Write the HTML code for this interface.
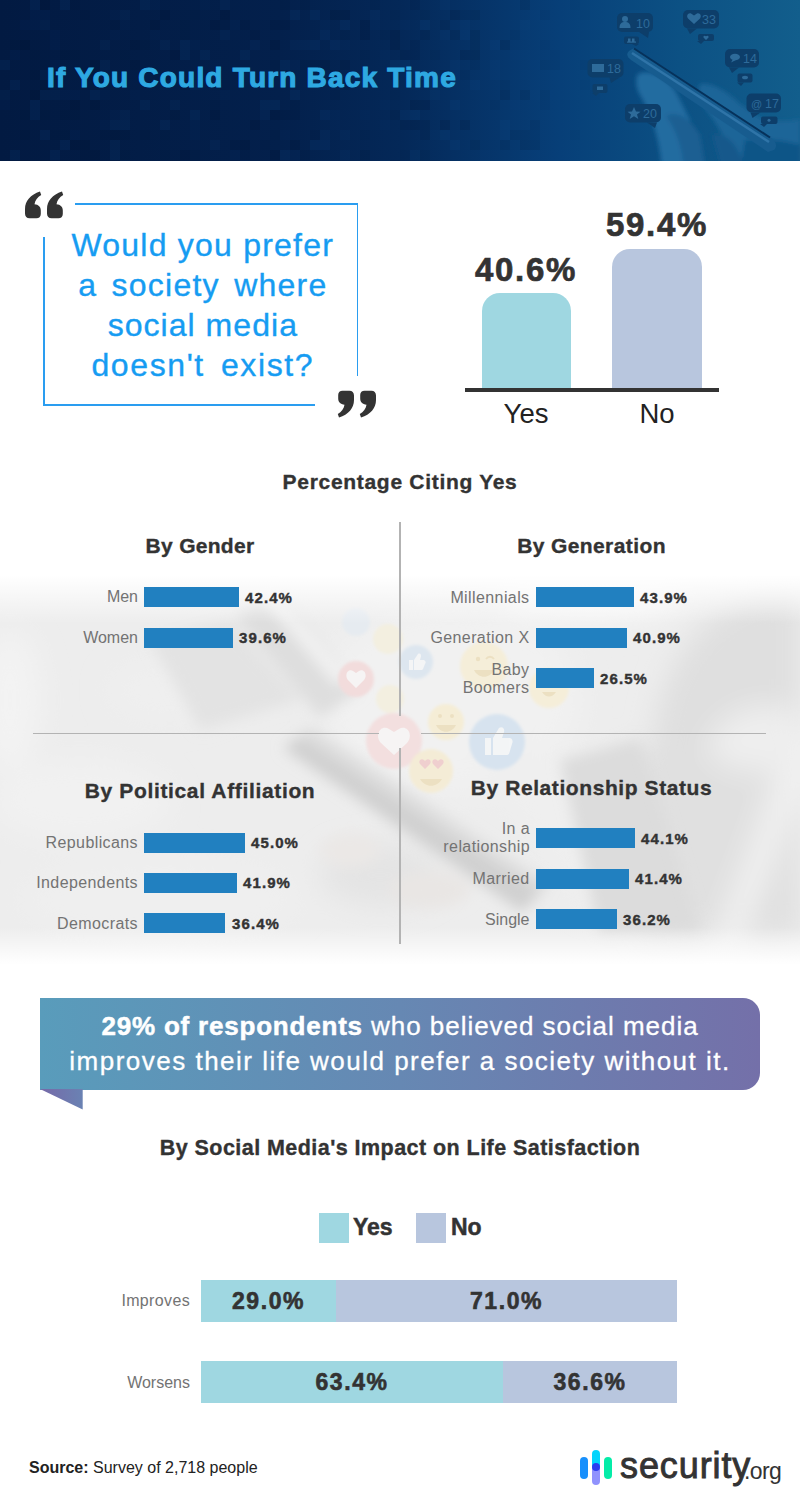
<!DOCTYPE html>
<html><head><meta charset="utf-8">
<style>
*{margin:0;padding:0;box-sizing:border-box}
html,body{width:800px;height:1512px;overflow:hidden;background:#fff}
body{position:relative;font-family:"Liberation Sans",sans-serif;color:#333}
.a{position:absolute;white-space:nowrap}
#hdr{position:absolute;left:0;top:0;width:800px;height:161px;overflow:hidden;
 background:linear-gradient(90deg,#0a2147 0%,#0c2a55 45%,#15497e 75%,#1b5990 100%)}
#title{left:47px;top:62px;font-size:28px;font-weight:bold;color:#2ea9e2;letter-spacing:1.2px;-webkit-text-stroke:1.1px #2ea9e2}
.qline{position:absolute;background:#2a9df0}
.qtext{position:absolute;left:44px;width:314px;text-align:center;color:#169cf2;font-size:32px;line-height:40px;letter-spacing:1.22px;-webkit-text-stroke:0.35px #169cf2}
.bar{position:absolute;background:#2180c0;height:20px}
.lbl{position:absolute;text-align:right;color:#737373;font-size:16px;line-height:18px;white-space:nowrap;letter-spacing:0.4px}
.val{position:absolute;font-weight:bold;color:#333;font-size:15px;line-height:20px;white-space:nowrap;letter-spacing:1.1px;-webkit-text-stroke:0.4px #333}
.h2{position:absolute;font-weight:bold;color:#333;font-size:21px;line-height:24px;white-space:nowrap;text-align:center;width:400px;letter-spacing:0.3px;-webkit-text-stroke:0.35px #333}
.div{position:absolute;background:#b3b3b3}
#bg{position:absolute;left:0;top:540px;width:800px;height:440px;overflow:hidden}
</style></head>
<body>
<div id="hdr"><svg width="800" height="161" viewBox="0 0 800 161" preserveAspectRatio="none">
<defs>
 <linearGradient id="hg" x1="0" y1="0" x2="1" y2="0">
  <stop offset="0" stop-color="#021a42"/>
  <stop offset="0.35" stop-color="#03204c"/>
  <stop offset="0.5" stop-color="#042858"/>
  <stop offset="0.7" stop-color="#073f78"/>
  <stop offset="0.85" stop-color="#0c5184"/>
  <stop offset="1" stop-color="#125e8c"/>
 </linearGradient>
 <filter id="hb" x="-20%" y="-20%" width="140%" height="140%"><feGaussianBlur stdDeviation="2"/></filter>
</defs>
<rect width="800" height="161" fill="url(#hg)"/>
<rect x="0" y="60" width="10" height="10" fill="#1c64b4" fill-opacity="0.088"/><rect x="0" y="90" width="10" height="10" fill="#1c64b4" fill-opacity="0.066"/><rect x="0" y="100" width="10" height="10" fill="#1c64b4" fill-opacity="0.044"/><rect x="10" y="40" width="10" height="10" fill="#000a1e" fill-opacity="0.066"/><rect x="10" y="50" width="10" height="10" fill="#1c64b4" fill-opacity="0.044"/><rect x="10" y="80" width="10" height="10" fill="#1c64b4" fill-opacity="0.088"/><rect x="10" y="150" width="10" height="10" fill="#1c64b4" fill-opacity="0.088"/><rect x="20" y="20" width="10" height="10" fill="#1c64b4" fill-opacity="0.044"/><rect x="20" y="40" width="10" height="10" fill="#000a1e" fill-opacity="0.138"/><rect x="20" y="110" width="10" height="10" fill="#000a1e" fill-opacity="0.066"/><rect x="20" y="130" width="10" height="10" fill="#000a1e" fill-opacity="0.099"/><rect x="20" y="160" width="10" height="10" fill="#000a1e" fill-opacity="0.138"/><rect x="30" y="0" width="10" height="10" fill="#1c64b4" fill-opacity="0.088"/><rect x="30" y="10" width="10" height="10" fill="#1c64b4" fill-opacity="0.044"/><rect x="30" y="20" width="10" height="10" fill="#1c64b4" fill-opacity="0.044"/><rect x="30" y="50" width="10" height="10" fill="#000a1e" fill-opacity="0.066"/><rect x="30" y="70" width="10" height="10" fill="#000a1e" fill-opacity="0.099"/><rect x="30" y="90" width="10" height="10" fill="#000a1e" fill-opacity="0.138"/><rect x="30" y="100" width="10" height="10" fill="#1c64b4" fill-opacity="0.088"/><rect x="30" y="110" width="10" height="10" fill="#1c64b4" fill-opacity="0.088"/><rect x="40" y="0" width="10" height="10" fill="#000a1e" fill-opacity="0.138"/><rect x="40" y="10" width="10" height="10" fill="#1c64b4" fill-opacity="0.044"/><rect x="40" y="20" width="10" height="10" fill="#1c64b4" fill-opacity="0.066"/><rect x="40" y="60" width="10" height="10" fill="#000a1e" fill-opacity="0.066"/><rect x="40" y="70" width="10" height="10" fill="#1c64b4" fill-opacity="0.066"/><rect x="40" y="80" width="10" height="10" fill="#000a1e" fill-opacity="0.138"/><rect x="40" y="90" width="10" height="10" fill="#1c64b4" fill-opacity="0.066"/><rect x="40" y="110" width="10" height="10" fill="#000a1e" fill-opacity="0.066"/><rect x="40" y="130" width="10" height="10" fill="#1c64b4" fill-opacity="0.088"/><rect x="40" y="160" width="10" height="10" fill="#000a1e" fill-opacity="0.138"/><rect x="50" y="30" width="10" height="10" fill="#1c64b4" fill-opacity="0.044"/><rect x="50" y="40" width="10" height="10" fill="#1c64b4" fill-opacity="0.044"/><rect x="50" y="60" width="10" height="10" fill="#1c64b4" fill-opacity="0.044"/><rect x="50" y="70" width="10" height="10" fill="#000a1e" fill-opacity="0.138"/><rect x="50" y="90" width="10" height="10" fill="#1c64b4" fill-opacity="0.066"/><rect x="50" y="130" width="10" height="10" fill="#000a1e" fill-opacity="0.066"/><rect x="50" y="150" width="10" height="10" fill="#1c64b4" fill-opacity="0.088"/><rect x="60" y="0" width="10" height="10" fill="#1c64b4" fill-opacity="0.088"/><rect x="60" y="50" width="10" height="10" fill="#000a1e" fill-opacity="0.099"/><rect x="60" y="90" width="10" height="10" fill="#1c64b4" fill-opacity="0.044"/><rect x="60" y="110" width="10" height="10" fill="#000a1e" fill-opacity="0.099"/><rect x="60" y="130" width="10" height="10" fill="#000a1e" fill-opacity="0.066"/><rect x="60" y="140" width="10" height="10" fill="#1c64b4" fill-opacity="0.088"/><rect x="60" y="160" width="10" height="10" fill="#000a1e" fill-opacity="0.099"/><rect x="70" y="0" width="10" height="10" fill="#000a1e" fill-opacity="0.099"/><rect x="70" y="50" width="10" height="10" fill="#000a1e" fill-opacity="0.066"/><rect x="70" y="90" width="10" height="10" fill="#1c64b4" fill-opacity="0.044"/><rect x="70" y="100" width="10" height="10" fill="#000a1e" fill-opacity="0.138"/><rect x="70" y="110" width="10" height="10" fill="#000a1e" fill-opacity="0.066"/><rect x="70" y="130" width="10" height="10" fill="#1c64b4" fill-opacity="0.044"/><rect x="70" y="140" width="10" height="10" fill="#000a1e" fill-opacity="0.138"/><rect x="70" y="160" width="10" height="10" fill="#000a1e" fill-opacity="0.138"/><rect x="80" y="10" width="10" height="10" fill="#000a1e" fill-opacity="0.099"/><rect x="80" y="140" width="10" height="10" fill="#000a1e" fill-opacity="0.138"/><rect x="80" y="150" width="10" height="10" fill="#000a1e" fill-opacity="0.099"/><rect x="90" y="60" width="10" height="10" fill="#000a1e" fill-opacity="0.138"/><rect x="90" y="70" width="10" height="10" fill="#000a1e" fill-opacity="0.138"/><rect x="90" y="80" width="10" height="10" fill="#000a1e" fill-opacity="0.066"/><rect x="90" y="90" width="10" height="10" fill="#1c64b4" fill-opacity="0.088"/><rect x="90" y="100" width="10" height="10" fill="#000a1e" fill-opacity="0.138"/><rect x="90" y="150" width="10" height="10" fill="#000a1e" fill-opacity="0.138"/><rect x="90" y="160" width="10" height="10" fill="#1c64b4" fill-opacity="0.044"/><rect x="100" y="40" width="10" height="10" fill="#1c64b4" fill-opacity="0.066"/><rect x="100" y="60" width="10" height="10" fill="#1c64b4" fill-opacity="0.066"/><rect x="100" y="90" width="10" height="10" fill="#1c64b4" fill-opacity="0.044"/><rect x="100" y="120" width="10" height="10" fill="#1c64b4" fill-opacity="0.044"/><rect x="100" y="130" width="10" height="10" fill="#000a1e" fill-opacity="0.099"/><rect x="110" y="10" width="10" height="10" fill="#1c64b4" fill-opacity="0.044"/><rect x="110" y="20" width="10" height="10" fill="#000a1e" fill-opacity="0.099"/><rect x="110" y="30" width="10" height="10" fill="#1c64b4" fill-opacity="0.044"/><rect x="110" y="110" width="10" height="10" fill="#1c64b4" fill-opacity="0.044"/><rect x="110" y="120" width="10" height="10" fill="#1c64b4" fill-opacity="0.088"/><rect x="110" y="130" width="10" height="10" fill="#000a1e" fill-opacity="0.138"/><rect x="110" y="140" width="10" height="10" fill="#1c64b4" fill-opacity="0.066"/><rect x="110" y="150" width="10" height="10" fill="#1c64b4" fill-opacity="0.088"/><rect x="110" y="160" width="10" height="10" fill="#000a1e" fill-opacity="0.066"/><rect x="120" y="10" width="10" height="10" fill="#1c64b4" fill-opacity="0.066"/><rect x="120" y="20" width="10" height="10" fill="#1c64b4" fill-opacity="0.044"/><rect x="120" y="50" width="10" height="10" fill="#000a1e" fill-opacity="0.066"/><rect x="120" y="110" width="10" height="10" fill="#1c64b4" fill-opacity="0.066"/><rect x="120" y="120" width="10" height="10" fill="#1c64b4" fill-opacity="0.088"/><rect x="120" y="130" width="10" height="10" fill="#000a1e" fill-opacity="0.099"/><rect x="120" y="150" width="10" height="10" fill="#000a1e" fill-opacity="0.066"/><rect x="120" y="160" width="10" height="10" fill="#1c64b4" fill-opacity="0.066"/><rect x="130" y="40" width="10" height="10" fill="#000a1e" fill-opacity="0.138"/><rect x="130" y="60" width="10" height="10" fill="#000a1e" fill-opacity="0.138"/><rect x="130" y="90" width="10" height="10" fill="#1c64b4" fill-opacity="0.044"/><rect x="140" y="0" width="10" height="10" fill="#1c64b4" fill-opacity="0.088"/><rect x="140" y="40" width="10" height="10" fill="#000a1e" fill-opacity="0.066"/><rect x="140" y="100" width="10" height="10" fill="#1c64b4" fill-opacity="0.088"/><rect x="140" y="130" width="10" height="10" fill="#000a1e" fill-opacity="0.099"/><rect x="140" y="160" width="10" height="10" fill="#1c64b4" fill-opacity="0.044"/><rect x="150" y="0" width="10" height="10" fill="#1c64b4" fill-opacity="0.044"/><rect x="150" y="20" width="10" height="10" fill="#000a1e" fill-opacity="0.138"/><rect x="150" y="30" width="10" height="10" fill="#1c64b4" fill-opacity="0.044"/><rect x="160" y="10" width="10" height="10" fill="#000a1e" fill-opacity="0.138"/><rect x="160" y="40" width="10" height="10" fill="#1c64b4" fill-opacity="0.066"/><rect x="160" y="80" width="10" height="10" fill="#1c64b4" fill-opacity="0.044"/><rect x="160" y="120" width="10" height="10" fill="#1c64b4" fill-opacity="0.088"/><rect x="160" y="130" width="10" height="10" fill="#000a1e" fill-opacity="0.066"/><rect x="160" y="150" width="10" height="10" fill="#000a1e" fill-opacity="0.066"/><rect x="170" y="50" width="10" height="10" fill="#000a1e" fill-opacity="0.138"/><rect x="170" y="100" width="10" height="10" fill="#1c64b4" fill-opacity="0.066"/><rect x="170" y="110" width="10" height="10" fill="#000a1e" fill-opacity="0.099"/><rect x="170" y="160" width="10" height="10" fill="#000a1e" fill-opacity="0.099"/><rect x="180" y="20" width="10" height="10" fill="#000a1e" fill-opacity="0.066"/><rect x="180" y="30" width="10" height="10" fill="#000a1e" fill-opacity="0.066"/><rect x="180" y="40" width="10" height="10" fill="#1c64b4" fill-opacity="0.088"/><rect x="180" y="50" width="10" height="10" fill="#1c64b4" fill-opacity="0.088"/><rect x="180" y="80" width="10" height="10" fill="#000a1e" fill-opacity="0.138"/><rect x="180" y="150" width="10" height="10" fill="#000a1e" fill-opacity="0.138"/><rect x="190" y="10" width="10" height="10" fill="#000a1e" fill-opacity="0.066"/><rect x="190" y="40" width="10" height="10" fill="#1c64b4" fill-opacity="0.044"/><rect x="190" y="80" width="10" height="10" fill="#1c64b4" fill-opacity="0.088"/><rect x="190" y="110" width="10" height="10" fill="#1c64b4" fill-opacity="0.088"/><rect x="190" y="120" width="10" height="10" fill="#1c64b4" fill-opacity="0.044"/><rect x="190" y="130" width="10" height="10" fill="#1c64b4" fill-opacity="0.044"/><rect x="190" y="150" width="10" height="10" fill="#000a1e" fill-opacity="0.066"/><rect x="190" y="160" width="10" height="10" fill="#000a1e" fill-opacity="0.066"/><rect x="200" y="0" width="10" height="10" fill="#1c64b4" fill-opacity="0.044"/><rect x="200" y="50" width="10" height="10" fill="#1c64b4" fill-opacity="0.088"/><rect x="200" y="70" width="10" height="10" fill="#000a1e" fill-opacity="0.066"/><rect x="210" y="20" width="10" height="10" fill="#000a1e" fill-opacity="0.138"/><rect x="210" y="60" width="10" height="10" fill="#1c64b4" fill-opacity="0.044"/><rect x="210" y="70" width="10" height="10" fill="#1c64b4" fill-opacity="0.044"/><rect x="210" y="100" width="10" height="10" fill="#000a1e" fill-opacity="0.066"/><rect x="210" y="110" width="10" height="10" fill="#000a1e" fill-opacity="0.138"/><rect x="210" y="140" width="10" height="10" fill="#1c64b4" fill-opacity="0.066"/><rect x="220" y="0" width="10" height="10" fill="#1c64b4" fill-opacity="0.066"/><rect x="220" y="10" width="10" height="10" fill="#000a1e" fill-opacity="0.138"/><rect x="220" y="20" width="10" height="10" fill="#000a1e" fill-opacity="0.066"/><rect x="220" y="30" width="10" height="10" fill="#1c64b4" fill-opacity="0.066"/><rect x="220" y="80" width="10" height="10" fill="#000a1e" fill-opacity="0.066"/><rect x="220" y="90" width="10" height="10" fill="#1c64b4" fill-opacity="0.044"/><rect x="230" y="20" width="10" height="10" fill="#1c64b4" fill-opacity="0.044"/><rect x="230" y="140" width="10" height="10" fill="#000a1e" fill-opacity="0.099"/><rect x="230" y="150" width="10" height="10" fill="#1c64b4" fill-opacity="0.044"/><rect x="230" y="160" width="10" height="10" fill="#000a1e" fill-opacity="0.099"/><rect x="240" y="20" width="10" height="10" fill="#000a1e" fill-opacity="0.099"/><rect x="240" y="50" width="10" height="10" fill="#1c64b4" fill-opacity="0.088"/><rect x="240" y="70" width="10" height="10" fill="#1c64b4" fill-opacity="0.044"/><rect x="240" y="140" width="10" height="10" fill="#000a1e" fill-opacity="0.138"/><rect x="240" y="150" width="10" height="10" fill="#000a1e" fill-opacity="0.066"/><rect x="240" y="160" width="10" height="10" fill="#1c64b4" fill-opacity="0.066"/><rect x="250" y="30" width="10" height="10" fill="#000a1e" fill-opacity="0.099"/><rect x="250" y="40" width="10" height="10" fill="#1c64b4" fill-opacity="0.066"/><rect x="250" y="120" width="10" height="10" fill="#000a1e" fill-opacity="0.138"/><rect x="260" y="70" width="10" height="10" fill="#1c64b4" fill-opacity="0.066"/><rect x="260" y="100" width="10" height="10" fill="#1c64b4" fill-opacity="0.088"/><rect x="260" y="110" width="10" height="10" fill="#1c64b4" fill-opacity="0.066"/><rect x="260" y="140" width="10" height="10" fill="#000a1e" fill-opacity="0.066"/><rect x="270" y="20" width="10" height="10" fill="#000a1e" fill-opacity="0.099"/><rect x="270" y="40" width="10" height="10" fill="#000a1e" fill-opacity="0.138"/><rect x="270" y="60" width="10" height="10" fill="#000a1e" fill-opacity="0.066"/><rect x="270" y="100" width="10" height="10" fill="#1c64b4" fill-opacity="0.088"/><rect x="270" y="110" width="10" height="10" fill="#000a1e" fill-opacity="0.138"/><rect x="270" y="130" width="10" height="10" fill="#000a1e" fill-opacity="0.066"/><rect x="270" y="150" width="10" height="10" fill="#000a1e" fill-opacity="0.138"/><rect x="280" y="0" width="10" height="10" fill="#000a1e" fill-opacity="0.066"/><rect x="280" y="20" width="10" height="10" fill="#000a1e" fill-opacity="0.099"/><rect x="280" y="60" width="10" height="10" fill="#1c64b4" fill-opacity="0.088"/><rect x="280" y="110" width="10" height="10" fill="#000a1e" fill-opacity="0.099"/><rect x="280" y="130" width="10" height="10" fill="#1c64b4" fill-opacity="0.044"/><rect x="280" y="150" width="10" height="10" fill="#1c64b4" fill-opacity="0.088"/><rect x="290" y="10" width="10" height="10" fill="#1c64b4" fill-opacity="0.088"/><rect x="290" y="40" width="10" height="10" fill="#1c64b4" fill-opacity="0.066"/><rect x="290" y="60" width="10" height="10" fill="#1c64b4" fill-opacity="0.044"/><rect x="290" y="90" width="10" height="10" fill="#1c64b4" fill-opacity="0.088"/><rect x="290" y="100" width="10" height="10" fill="#000a1e" fill-opacity="0.066"/><rect x="290" y="110" width="10" height="10" fill="#000a1e" fill-opacity="0.099"/><rect x="290" y="140" width="10" height="10" fill="#000a1e" fill-opacity="0.138"/><rect x="290" y="150" width="10" height="10" fill="#1c64b4" fill-opacity="0.044"/><rect x="300" y="0" width="10" height="10" fill="#000a1e" fill-opacity="0.066"/><rect x="300" y="40" width="10" height="10" fill="#1c64b4" fill-opacity="0.066"/><rect x="300" y="60" width="10" height="10" fill="#000a1e" fill-opacity="0.066"/><rect x="300" y="150" width="10" height="10" fill="#000a1e" fill-opacity="0.066"/><rect x="310" y="10" width="10" height="10" fill="#1c64b4" fill-opacity="0.088"/><rect x="310" y="40" width="10" height="10" fill="#1c64b4" fill-opacity="0.088"/><rect x="310" y="60" width="10" height="10" fill="#000a1e" fill-opacity="0.099"/><rect x="310" y="70" width="10" height="10" fill="#000a1e" fill-opacity="0.066"/><rect x="310" y="130" width="10" height="10" fill="#000a1e" fill-opacity="0.099"/><rect x="310" y="140" width="10" height="10" fill="#1c64b4" fill-opacity="0.088"/><rect x="320" y="20" width="10" height="10" fill="#1c64b4" fill-opacity="0.044"/><rect x="320" y="30" width="10" height="10" fill="#1c64b4" fill-opacity="0.088"/><rect x="320" y="60" width="10" height="10" fill="#000a1e" fill-opacity="0.138"/><rect x="320" y="110" width="10" height="10" fill="#1c64b4" fill-opacity="0.088"/><rect x="320" y="130" width="10" height="10" fill="#1c64b4" fill-opacity="0.066"/><rect x="320" y="140" width="10" height="10" fill="#1c64b4" fill-opacity="0.088"/><rect x="320" y="160" width="10" height="10" fill="#1c64b4" fill-opacity="0.066"/><rect x="330" y="10" width="10" height="10" fill="#000a1e" fill-opacity="0.138"/><rect x="330" y="40" width="10" height="10" fill="#1c64b4" fill-opacity="0.088"/><rect x="330" y="70" width="10" height="10" fill="#000a1e" fill-opacity="0.138"/><rect x="330" y="90" width="10" height="10" fill="#000a1e" fill-opacity="0.099"/><rect x="330" y="110" width="10" height="10" fill="#1c64b4" fill-opacity="0.044"/><rect x="330" y="120" width="10" height="10" fill="#1c64b4" fill-opacity="0.044"/><rect x="340" y="10" width="10" height="10" fill="#000a1e" fill-opacity="0.138"/><rect x="340" y="20" width="10" height="10" fill="#1c64b4" fill-opacity="0.088"/><rect x="340" y="30" width="10" height="10" fill="#000a1e" fill-opacity="0.066"/><rect x="340" y="40" width="10" height="10" fill="#1c64b4" fill-opacity="0.044"/><rect x="340" y="60" width="10" height="10" fill="#000a1e" fill-opacity="0.138"/><rect x="340" y="80" width="10" height="10" fill="#000a1e" fill-opacity="0.138"/><rect x="340" y="130" width="10" height="10" fill="#1c64b4" fill-opacity="0.066"/><rect x="340" y="150" width="10" height="10" fill="#1c64b4" fill-opacity="0.066"/><rect x="360" y="20" width="10" height="10" fill="#000a1e" fill-opacity="0.138"/><rect x="360" y="30" width="10" height="10" fill="#000a1e" fill-opacity="0.138"/><rect x="360" y="50" width="10" height="10" fill="#000a1e" fill-opacity="0.066"/><rect x="360" y="80" width="10" height="10" fill="#1c64b4" fill-opacity="0.044"/><rect x="360" y="110" width="10" height="10" fill="#1c64b4" fill-opacity="0.044"/><rect x="360" y="130" width="10" height="10" fill="#000a1e" fill-opacity="0.066"/><rect x="360" y="150" width="10" height="10" fill="#000a1e" fill-opacity="0.099"/><rect x="370" y="0" width="10" height="10" fill="#000a1e" fill-opacity="0.066"/><rect x="370" y="10" width="10" height="10" fill="#1c64b4" fill-opacity="0.066"/><rect x="370" y="20" width="10" height="10" fill="#1c64b4" fill-opacity="0.044"/><rect x="380" y="30" width="10" height="10" fill="#000a1e" fill-opacity="0.066"/><rect x="380" y="50" width="10" height="10" fill="#1c64b4" fill-opacity="0.044"/><rect x="380" y="100" width="10" height="10" fill="#1c64b4" fill-opacity="0.044"/><rect x="380" y="120" width="10" height="10" fill="#1c64b4" fill-opacity="0.044"/><rect x="380" y="160" width="10" height="10" fill="#1c64b4" fill-opacity="0.066"/><rect x="390" y="10" width="10" height="10" fill="#000a1e" fill-opacity="0.066"/><rect x="390" y="30" width="10" height="10" fill="#000a1e" fill-opacity="0.138"/><rect x="390" y="40" width="10" height="10" fill="#000a1e" fill-opacity="0.138"/><rect x="390" y="60" width="10" height="10" fill="#1c64b4" fill-opacity="0.088"/><rect x="390" y="70" width="10" height="10" fill="#000a1e" fill-opacity="0.138"/><rect x="390" y="90" width="10" height="10" fill="#000a1e" fill-opacity="0.066"/><rect x="390" y="110" width="10" height="10" fill="#000a1e" fill-opacity="0.099"/><rect x="390" y="160" width="10" height="10" fill="#000a1e" fill-opacity="0.138"/><rect x="400" y="20" width="10" height="10" fill="#1c64b4" fill-opacity="0.044"/><rect x="400" y="50" width="10" height="10" fill="#000a1e" fill-opacity="0.099"/><rect x="400" y="60" width="10" height="10" fill="#1c64b4" fill-opacity="0.088"/><rect x="400" y="110" width="10" height="10" fill="#1c64b4" fill-opacity="0.066"/><rect x="400" y="120" width="10" height="10" fill="#000a1e" fill-opacity="0.099"/><rect x="400" y="150" width="10" height="10" fill="#000a1e" fill-opacity="0.066"/><rect x="410" y="0" width="10" height="10" fill="#000a1e" fill-opacity="0.099"/><rect x="410" y="40" width="10" height="10" fill="#000a1e" fill-opacity="0.099"/><rect x="410" y="50" width="10" height="10" fill="#000a1e" fill-opacity="0.099"/><rect x="410" y="80" width="10" height="10" fill="#1c64b4" fill-opacity="0.044"/><rect x="410" y="100" width="10" height="10" fill="#000a1e" fill-opacity="0.138"/><rect x="410" y="110" width="10" height="10" fill="#1c64b4" fill-opacity="0.088"/><rect x="410" y="120" width="10" height="10" fill="#000a1e" fill-opacity="0.138"/><rect x="410" y="150" width="10" height="10" fill="#1c64b4" fill-opacity="0.066"/><rect x="420" y="10" width="10" height="10" fill="#000a1e" fill-opacity="0.066"/><rect x="420" y="20" width="10" height="10" fill="#1c64b4" fill-opacity="0.088"/><rect x="420" y="30" width="10" height="10" fill="#000a1e" fill-opacity="0.099"/><rect x="420" y="70" width="10" height="10" fill="#1c64b4" fill-opacity="0.066"/><rect x="420" y="80" width="10" height="10" fill="#000a1e" fill-opacity="0.066"/><rect x="420" y="100" width="10" height="10" fill="#000a1e" fill-opacity="0.138"/><rect x="420" y="120" width="10" height="10" fill="#000a1e" fill-opacity="0.099"/><rect x="420" y="130" width="10" height="10" fill="#000a1e" fill-opacity="0.099"/><rect x="420" y="150" width="10" height="10" fill="#000a1e" fill-opacity="0.066"/><rect x="420" y="160" width="10" height="10" fill="#000a1e" fill-opacity="0.066"/><rect x="430" y="50" width="10" height="10" fill="#000a1e" fill-opacity="0.066"/><rect x="430" y="90" width="10" height="10" fill="#1c64b4" fill-opacity="0.066"/><rect x="430" y="130" width="10" height="10" fill="#1c64b4" fill-opacity="0.044"/><rect x="430" y="160" width="10" height="10" fill="#000a1e" fill-opacity="0.099"/><rect x="440" y="0" width="10" height="10" fill="#1c64b4" fill-opacity="0.066"/><rect x="440" y="20" width="10" height="10" fill="#000a1e" fill-opacity="0.099"/><rect x="440" y="30" width="10" height="10" fill="#1c64b4" fill-opacity="0.066"/><rect x="440" y="70" width="10" height="10" fill="#000a1e" fill-opacity="0.138"/><rect x="440" y="120" width="10" height="10" fill="#000a1e" fill-opacity="0.138"/><rect x="440" y="130" width="10" height="10" fill="#1c64b4" fill-opacity="0.088"/><rect x="450" y="10" width="10" height="10" fill="#000a1e" fill-opacity="0.138"/><rect x="450" y="20" width="10" height="10" fill="#1c64b4" fill-opacity="0.044"/><rect x="450" y="30" width="10" height="10" fill="#000a1e" fill-opacity="0.099"/><rect x="450" y="60" width="10" height="10" fill="#1c64b4" fill-opacity="0.066"/><rect x="450" y="70" width="10" height="10" fill="#1c64b4" fill-opacity="0.044"/><rect x="450" y="100" width="10" height="10" fill="#1c64b4" fill-opacity="0.088"/><rect x="450" y="140" width="10" height="10" fill="#1c64b4" fill-opacity="0.088"/><rect x="460" y="10" width="10" height="10" fill="#000a1e" fill-opacity="0.066"/><rect x="460" y="20" width="10" height="10" fill="#1c64b4" fill-opacity="0.066"/><rect x="460" y="30" width="10" height="10" fill="#1c64b4" fill-opacity="0.088"/><rect x="460" y="50" width="10" height="10" fill="#000a1e" fill-opacity="0.138"/><rect x="460" y="70" width="10" height="10" fill="#000a1e" fill-opacity="0.066"/><rect x="460" y="120" width="10" height="10" fill="#000a1e" fill-opacity="0.138"/><rect x="470" y="10" width="10" height="10" fill="#000a1e" fill-opacity="0.099"/><rect x="470" y="30" width="10" height="10" fill="#000a1e" fill-opacity="0.099"/><rect x="470" y="40" width="10" height="10" fill="#000a1e" fill-opacity="0.099"/><rect x="470" y="50" width="10" height="10" fill="#000a1e" fill-opacity="0.138"/><rect x="470" y="60" width="10" height="10" fill="#000a1e" fill-opacity="0.066"/><rect x="470" y="80" width="10" height="10" fill="#1c64b4" fill-opacity="0.088"/><rect x="470" y="140" width="10" height="10" fill="#000a1e" fill-opacity="0.099"/><rect x="480" y="150" width="10" height="10" fill="#1c64b4" fill-opacity="0.044"/><rect x="480" y="160" width="10" height="10" fill="#1c64b4" fill-opacity="0.088"/><rect x="490" y="40" width="10" height="10" fill="#1c64b4" fill-opacity="0.083"/><rect x="490" y="60" width="10" height="10" fill="#1c64b4" fill-opacity="0.062"/><rect x="490" y="70" width="10" height="10" fill="#1c64b4" fill-opacity="0.062"/><rect x="490" y="100" width="10" height="10" fill="#000a1e" fill-opacity="0.062"/><rect x="500" y="40" width="10" height="10" fill="#000a1e" fill-opacity="0.120"/><rect x="500" y="80" width="10" height="10" fill="#000a1e" fill-opacity="0.058"/><rect x="500" y="90" width="10" height="10" fill="#000a1e" fill-opacity="0.120"/><rect x="500" y="120" width="10" height="10" fill="#1c64b4" fill-opacity="0.077"/><rect x="500" y="130" width="10" height="10" fill="#1c64b4" fill-opacity="0.058"/><rect x="500" y="140" width="10" height="10" fill="#000a1e" fill-opacity="0.087"/><rect x="510" y="30" width="10" height="10" fill="#000a1e" fill-opacity="0.054"/><rect x="510" y="50" width="10" height="10" fill="#1c64b4" fill-opacity="0.054"/><rect x="510" y="100" width="10" height="10" fill="#1c64b4" fill-opacity="0.054"/><rect x="510" y="130" width="10" height="10" fill="#000a1e" fill-opacity="0.080"/><rect x="520" y="0" width="10" height="10" fill="#000a1e" fill-opacity="0.103"/><rect x="520" y="20" width="10" height="10" fill="#1c64b4" fill-opacity="0.066"/><rect x="520" y="30" width="10" height="10" fill="#1c64b4" fill-opacity="0.033"/><rect x="520" y="50" width="10" height="10" fill="#1c64b4" fill-opacity="0.050"/><rect x="520" y="70" width="10" height="10" fill="#1c64b4" fill-opacity="0.050"/><rect x="520" y="90" width="10" height="10" fill="#000a1e" fill-opacity="0.103"/><rect x="520" y="130" width="10" height="10" fill="#000a1e" fill-opacity="0.074"/><rect x="520" y="140" width="10" height="10" fill="#000a1e" fill-opacity="0.103"/><rect x="520" y="150" width="10" height="10" fill="#1c64b4" fill-opacity="0.033"/><rect x="530" y="10" width="10" height="10" fill="#1c64b4" fill-opacity="0.045"/><rect x="530" y="60" width="10" height="10" fill="#1c64b4" fill-opacity="0.045"/><rect x="530" y="80" width="10" height="10" fill="#1c64b4" fill-opacity="0.030"/><rect x="530" y="90" width="10" height="10" fill="#1c64b4" fill-opacity="0.061"/><rect x="530" y="120" width="10" height="10" fill="#000a1e" fill-opacity="0.095"/><rect x="530" y="130" width="10" height="10" fill="#000a1e" fill-opacity="0.045"/><rect x="530" y="140" width="10" height="10" fill="#000a1e" fill-opacity="0.095"/><rect x="530" y="150" width="10" height="10" fill="#1c64b4" fill-opacity="0.045"/><rect x="540" y="10" width="10" height="10" fill="#000a1e" fill-opacity="0.041"/><rect x="540" y="20" width="10" height="10" fill="#1c64b4" fill-opacity="0.041"/><rect x="540" y="40" width="10" height="10" fill="#000a1e" fill-opacity="0.041"/><rect x="540" y="60" width="10" height="10" fill="#000a1e" fill-opacity="0.062"/><rect x="540" y="90" width="10" height="10" fill="#000a1e" fill-opacity="0.062"/><rect x="540" y="100" width="10" height="10" fill="#000a1e" fill-opacity="0.041"/><rect x="550" y="50" width="10" height="10" fill="#000a1e" fill-opacity="0.037"/><rect x="550" y="60" width="10" height="10" fill="#000a1e" fill-opacity="0.056"/><rect x="550" y="70" width="10" height="10" fill="#1c64b4" fill-opacity="0.037"/><rect x="550" y="90" width="10" height="10" fill="#1c64b4" fill-opacity="0.050"/><rect x="550" y="110" width="10" height="10" fill="#1c64b4" fill-opacity="0.037"/><rect x="550" y="150" width="10" height="10" fill="#1c64b4" fill-opacity="0.025"/><rect x="560" y="30" width="10" height="10" fill="#1c64b4" fill-opacity="0.022"/><rect x="560" y="100" width="10" height="10" fill="#000a1e" fill-opacity="0.033"/><rect x="560" y="150" width="10" height="10" fill="#1c64b4" fill-opacity="0.022"/><rect x="560" y="160" width="10" height="10" fill="#000a1e" fill-opacity="0.050"/><rect x="570" y="0" width="10" height="10" fill="#000a1e" fill-opacity="0.043"/><rect x="570" y="90" width="10" height="10" fill="#1c64b4" fill-opacity="0.029"/><rect x="570" y="130" width="10" height="10" fill="#000a1e" fill-opacity="0.043"/><rect x="580" y="10" width="10" height="10" fill="#000a1e" fill-opacity="0.052"/><rect x="580" y="30" width="10" height="10" fill="#000a1e" fill-opacity="0.037"/><rect x="580" y="60" width="10" height="10" fill="#000a1e" fill-opacity="0.037"/><rect x="580" y="80" width="10" height="10" fill="#000a1e" fill-opacity="0.037"/><rect x="590" y="0" width="10" height="10" fill="#1c64b4" fill-opacity="0.014"/><rect x="590" y="20" width="10" height="10" fill="#1c64b4" fill-opacity="0.021"/><rect x="590" y="30" width="10" height="10" fill="#000a1e" fill-opacity="0.021"/><rect x="590" y="50" width="10" height="10" fill="#1c64b4" fill-opacity="0.028"/><rect x="590" y="60" width="10" height="10" fill="#1c64b4" fill-opacity="0.014"/><rect x="590" y="90" width="10" height="10" fill="#000a1e" fill-opacity="0.031"/><rect x="590" y="140" width="10" height="10" fill="#000a1e" fill-opacity="0.031"/><rect x="590" y="160" width="10" height="10" fill="#1c64b4" fill-opacity="0.021"/><rect x="600" y="10" width="10" height="10" fill="#1c64b4" fill-opacity="0.017"/><rect x="600" y="20" width="10" height="10" fill="#1c64b4" fill-opacity="0.022"/><rect x="600" y="110" width="10" height="10" fill="#1c64b4" fill-opacity="0.017"/><rect x="600" y="120" width="10" height="10" fill="#1c64b4" fill-opacity="0.017"/><rect x="600" y="140" width="10" height="10" fill="#000a1e" fill-opacity="0.025"/><rect x="600" y="160" width="10" height="10" fill="#1c64b4" fill-opacity="0.011"/><rect x="610" y="50" width="10" height="10" fill="#1c64b4" fill-opacity="0.008"/><rect x="610" y="70" width="10" height="10" fill="#000a1e" fill-opacity="0.019"/><rect x="610" y="80" width="10" height="10" fill="#000a1e" fill-opacity="0.012"/><rect x="610" y="110" width="10" height="10" fill="#000a1e" fill-opacity="0.019"/><rect x="610" y="160" width="10" height="10" fill="#1c64b4" fill-opacity="0.017"/><rect x="620" y="10" width="10" height="10" fill="#1c64b4" fill-opacity="0.011"/><rect x="620" y="20" width="10" height="10" fill="#1c64b4" fill-opacity="0.006"/><rect x="620" y="30" width="10" height="10" fill="#1c64b4" fill-opacity="0.011"/><rect x="620" y="50" width="10" height="10" fill="#000a1e" fill-opacity="0.012"/><rect x="620" y="110" width="10" height="10" fill="#1c64b4" fill-opacity="0.008"/><rect x="620" y="130" width="10" height="10" fill="#000a1e" fill-opacity="0.008"/><rect x="630" y="0" width="10" height="10" fill="#000a1e" fill-opacity="0.009"/><rect x="630" y="20" width="10" height="10" fill="#1c64b4" fill-opacity="0.004"/><rect x="630" y="50" width="10" height="10" fill="#000a1e" fill-opacity="0.004"/><rect x="630" y="80" width="10" height="10" fill="#000a1e" fill-opacity="0.009"/><rect x="630" y="90" width="10" height="10" fill="#1c64b4" fill-opacity="0.006"/><rect x="630" y="100" width="10" height="10" fill="#000a1e" fill-opacity="0.004"/><rect x="630" y="130" width="10" height="10" fill="#000a1e" fill-opacity="0.006"/><rect x="630" y="140" width="10" height="10" fill="#1c64b4" fill-opacity="0.006"/><rect x="630" y="150" width="10" height="10" fill="#1c64b4" fill-opacity="0.004"/><rect x="630" y="160" width="10" height="10" fill="#000a1e" fill-opacity="0.006"/>
<g filter="url(#hb)">
 <path d="M638,74 C650,68 668,78 676,92 L690,120 C694,135 692,150 688,170 L662,170 C660,140 652,115 640,95 C636,88 635,80 638,74 Z" fill="#236ca0"/>
 <path d="M666,116 C678,110 692,120 700,135 L706,170 L684,170 C682,145 676,130 666,116 Z" fill="#1a5f92"/>
 <path d="M700,84 C712,82 728,92 740,104 L760,118 C775,123 792,121 800,119 L800,170 L735,170 C730,145 718,125 705,108 C700,100 697,90 700,84 Z" fill="#1d6598"/>
 <path d="M712,135 C725,132 738,142 745,170 L722,170 Z" fill="#17598b"/>
 <path d="M745,140 C770,138 790,142 800,145 L800,170 L740,170 Z" fill="#0f5487"/>
</g>
<path d="M629,51 L634,48 L770,137 C776,141 778,146 774,150 L768,152 L631,60 C627,57 626,54 629,51 Z" fill="#175c8f"/>
<path d="M632,53 L769,142" stroke="#2f74a8" stroke-width="2.5"/>
<path d="M634,48.5 L770,137.5" stroke="#06315a" stroke-width="2"/>
<g><rect x="617" y="13" width="36" height="19" rx="5" fill="#0d3e6a"/><path d="M639,32 L648,38 L649,32 Z" fill="#0d3e6a"/><circle cx="625" cy="19" r="3" fill="#2e6b9a"/><path d="M619.5,28 C619.5,23 622,22 625,22 C628,22 630.5,23 630.5,28 Z" fill="#2e6b9a"/><text x="636" y="28" font-size="12.5" fill="#2e6b9a" font-family="Liberation Sans">10</text></g><g><rect x="624" y="36.5" width="15" height="7.5" rx="2" fill="#0d3e6a"/><path d="M632,44.0 L636,46 L639,44.0 Z" fill="#0d3e6a"/><rect x="628" y="38.5" width="2.5" height="3.5" fill="#2e6b9a"/><rect x="632" y="38.5" width="2.5" height="3.5" fill="#2e6b9a"/><rect x="627" y="41.5" width="9" height="1.2" fill="#2e6b9a"/></g><g><rect x="683" y="10" width="36" height="18.5" rx="5" fill="#0d3e6a"/><path d="M687,28.5 L690,34 L697,28.5 Z" fill="#0d3e6a"/><path d="M694,24 L688,18.5 C686,16 688,12.5 691,13.5 L694,15.5 L697,13.5 C700,12.5 702,16 700,18.5 Z" fill="#2e6b9a"/><text x="702" y="24" font-size="12.5" fill="#2e6b9a" font-family="Liberation Sans">33</text></g><g><rect x="698" y="34" width="16" height="7" rx="2" fill="#0d3e6a"/><path d="M697,41 L701,44 L704,41 Z" fill="#0d3e6a"/><path d="M706,40 L703.5,37.5 C703,36 704.5,35 706,36.3 C707.5,35 709,36 708.5,37.5 Z" fill="#2e6b9a"/></g><g><rect x="587.5" y="59" width="36" height="18.5" rx="5" fill="#0d3e6a"/><path d="M609.5,77.5 L611,83 L619.5,77.5 Z" fill="#0d3e6a"/><rect x="592" y="64" width="12" height="8" fill="#2e6b9a"/><text x="607" y="73" font-size="12.5" fill="#2e6b9a" font-family="Liberation Sans">18</text></g><g><rect x="592.5" y="84" width="15" height="9" rx="2" fill="#0d3e6a"/><path d="M592,93 L596,96 L599,93 Z" fill="#0d3e6a"/><rect x="597" y="86.5" width="6" height="3.5" fill="#2e6b9a"/></g><g><rect x="725" y="49" width="34" height="18.5" rx="5" fill="#0d3e6a"/><path d="M729,67.5 L732,73 L739,67.5 Z" fill="#0d3e6a"/><ellipse cx="735" cy="57" rx="5" ry="3.3" fill="#2e6b9a"/><path d="M733,59 L731,62.5 L737,59.5 Z" fill="#2e6b9a"/><text x="743" y="63" font-size="12.5" fill="#2e6b9a" font-family="Liberation Sans">14</text></g><g><rect x="737.5" y="73.5" width="15" height="9" rx="2" fill="#0d3e6a"/><path d="M737,82.5 L741,86 L744,82.5 Z" fill="#0d3e6a"/><ellipse cx="745" cy="77.5" rx="3" ry="1.8" fill="#2e6b9a"/></g><g><rect x="625" y="104" width="36" height="18.5" rx="5" fill="#0d3e6a"/><path d="M647,122.5 L655,128 L657,122.5 Z" fill="#0d3e6a"/><path d="M634,107 L636,111.5 L640.5,111.8 L637,114.5 L638.3,119 L634,116.3 L629.7,119 L631,114.5 L627.5,111.8 L632,111.5 Z" fill="#2e6b9a"/><text x="643" y="118" font-size="12.5" fill="#2e6b9a" font-family="Liberation Sans">20</text></g><g><rect x="746.5" y="93.5" width="34.5" height="19" rx="5" fill="#0d3e6a"/><path d="M750.5,112.5 L752.5,118 L760.5,112.5 Z" fill="#0d3e6a"/><text x="751" y="107.5" font-size="11" fill="#2e6b9a" font-family="Liberation Sans">@</text><text x="765" y="108" font-size="12.5" fill="#2e6b9a" font-family="Liberation Sans">17</text></g><g><rect x="761" y="116.5" width="16.5" height="7.5" rx="2" fill="#0d3e6a"/><path d="M760,124.0 L764,127 L767,124.0 Z" fill="#0d3e6a"/><circle cx="769" cy="120.3" r="1.5" fill="#2e6b9a"/></g>
</svg></div>
<div class="a" id="title">If You Could Turn Back Time</div>

<!-- quote -->
<svg class="a" style="left:25px;top:191px" width="40" height="28" viewBox="0 0 40 28">
 <path fill="#333" d="M15,0.5 L16.2,4 C12.5,6 10,9.5 9.5,13.3 C13.5,13.6 15.8,16 15.8,19.5 L15.8,23 C15.8,25.8 14,27.3 11.5,27.3 L4.5,27.3 C1.8,27.3 0,25.5 0,22.5 L0,18 C0,10 5.5,3.5 15,0.5 Z"/>
 <path fill="#333" transform="translate(22,0)" d="M15,0.5 L16.2,4 C12.5,6 10,9.5 9.5,13.3 C13.5,13.6 15.8,16 15.8,19.5 L15.8,23 C15.8,25.8 14,27.3 11.5,27.3 L4.5,27.3 C1.8,27.3 0,25.5 0,22.5 L0,18 C0,10 5.5,3.5 15,0.5 Z"/>
</svg>
<svg class="a" style="left:335.5px;top:390px" width="40" height="28" viewBox="0 0 40 28">
 <g transform="rotate(180 20 14)">
 <path fill="#333" d="M15,0.5 L16.2,4 C12.5,6 10,9.5 9.5,13.3 C13.5,13.6 15.8,16 15.8,19.5 L15.8,23 C15.8,25.8 14,27.3 11.5,27.3 L4.5,27.3 C1.8,27.3 0,25.5 0,22.5 L0,18 C0,10 5.5,3.5 15,0.5 Z"/>
 <path fill="#333" transform="translate(22,0)" d="M15,0.5 L16.2,4 C12.5,6 10,9.5 9.5,13.3 C13.5,13.6 15.8,16 15.8,19.5 L15.8,23 C15.8,25.8 14,27.3 11.5,27.3 L4.5,27.3 C1.8,27.3 0,25.5 0,22.5 L0,18 C0,10 5.5,3.5 15,0.5 Z"/>
 </g>
</svg>
<div class="qline" style="left:75px;top:203px;width:283px;height:1.5px"></div>
<div class="qline" style="left:356.5px;top:203px;width:1.5px;height:173px"></div>
<div class="qline" style="left:43px;top:237px;width:1.5px;height:168px"></div>
<div class="qline" style="left:43px;top:404px;width:272px;height:1.5px"></div>
<div class="qtext" style="top:224.5px;left:45.8px">Would you prefer<br><span style="word-spacing:4.3px">a society where</span><br><span style="letter-spacing:1.04px">social media</span><br><span style="word-spacing:5.6px;letter-spacing:1.6px">doesn't exist?</span></div>

<!-- top bar chart -->
<div class="a" style="left:481.5px;top:292.5px;width:89.5px;height:97.5px;background:#9fd7e1;border-radius:18px 18px 0 0"></div>
<div class="a" style="left:612px;top:248.5px;width:89.5px;height:141.5px;background:#b8c6de;border-radius:18px 18px 0 0"></div>
<div class="a" style="left:465px;top:388px;width:254px;height:4px;background:#333"></div>
<div class="a" style="left:466px;top:251px;width:120px;text-align:center;font-size:33px;font-weight:bold;letter-spacing:1.7px;-webkit-text-stroke:0.7px #333">40.6%</div>
<div class="a" style="left:597px;top:206px;width:120px;text-align:center;font-size:33px;font-weight:bold;letter-spacing:1.7px;-webkit-text-stroke:0.7px #333">59.4%</div>
<div class="a" style="left:466px;top:397.5px;width:120px;text-align:center;font-size:27.5px;color:#222">Yes</div>
<div class="a" style="left:597px;top:397.5px;width:120px;text-align:center;font-size:27.5px;color:#222">No</div>

<!-- middle background -->
<div id="bg"><svg width="800" height="440" viewBox="0 540 800 440">
<defs>
 <filter id="bl" x="-50%" y="-50%" width="200%" height="200%"><feGaussianBlur stdDeviation="14"/></filter>
 <filter id="bl3" x="-50%" y="-50%" width="200%" height="200%"><feGaussianBlur stdDeviation="7"/></filter>
 <filter id="bl2" x="-30%" y="-30%" width="160%" height="160%"><feGaussianBlur stdDeviation="1.5"/></filter>
 <linearGradient id="fadeV" gradientUnits="userSpaceOnUse" x1="0" y1="540" x2="0" y2="980">
  <stop offset="0" stop-color="#fff" stop-opacity="1"/>
  <stop offset="0.08" stop-color="#fff" stop-opacity="1"/>
  <stop offset="0.19" stop-color="#fff" stop-opacity="0"/>
  <stop offset="0.88" stop-color="#fff" stop-opacity="0"/>
  <stop offset="0.965" stop-color="#fff" stop-opacity="1"/>
  <stop offset="1" stop-color="#fff" stop-opacity="1"/>
 </linearGradient>
</defs>
<rect x="0" y="540" width="800" height="440" fill="#ededed"/>
<g filter="url(#bl)">
 <ellipse cx="10" cy="700" rx="30" ry="70" fill="#f3f3f3"/>
 <ellipse cx="170" cy="690" rx="60" ry="30" fill="#efefef"/>
 <ellipse cx="450" cy="700" rx="130" ry="95" fill="#f1f1f1"/>
 <ellipse cx="380" cy="875" rx="60" ry="30" fill="#e4e4e4"/>
 <ellipse cx="80" cy="800" rx="90" ry="40" fill="#f1f1f1"/>
 <ellipse cx="160" cy="900" rx="140" ry="40" fill="#efefef"/>
 <path d="M655,770 C645,690 690,615 760,595 L800,595 L800,770 Z" fill="#dfdfdf"/>
 <path d="M615,750 L800,750 L800,935 L645,935 Z" fill="#e0e0e0"/>
 <path d="M790,730 C770,800 740,880 700,975 L725,975 C765,880 800,800 815,735 Z" fill="#f2f2f2"/>
 <path d="M705,750 C720,712 752,700 795,708 L800,770 L735,770 Z" fill="#eeeeee"/>
 <path d="M470,752 L560,748 L670,905 L590,910 Z" fill="#efefef"/>
 <ellipse cx="590" cy="600" rx="90" ry="25" fill="#f6f6f6"/>
</g>
<g filter="url(#bl3)">
 <path d="M235,615 L280,592 L360,690 L320,718 Z" fill="#dedede"/>
 <path d="M262,598 L274,591 L348,678 L337,686 Z" fill="#f3f3f3"/>
 <path d="M150,640 L230,620 L300,700 L200,730 Z" fill="#e3e3e3"/>
 <path d="M283,748 L312,728 L548,884 L522,912 Z" fill="#d0d0d0"/>
 <path d="M300,737 L314,729 L545,881 L536,890 Z" fill="#dedede"/>
 <ellipse cx="350" cy="850" rx="30" ry="16" fill="#ebe8e6"/>
 <ellipse cx="430" cy="890" rx="40" ry="18" fill="#e9e6e4"/>
 <path d="M560,760 L640,740 L700,930 L600,935 Z" fill="#dcdcdc"/>
</g>
<g filter="url(#bl2)">
 <circle cx="356" cy="679" r="18" fill="#f2dcdc"/>
 <circle cx="394" cy="741" r="28" fill="#f3dfdf"/>
 <circle cx="497" cy="742" r="28" fill="#d7e3ef"/>
 <circle cx="416" cy="662" r="17" fill="#dde6ef"/>
 <circle cx="356" cy="622" r="14" fill="#e6ebf0"/>
 <circle cx="388" cy="639" r="15" fill="#f3efe0"/>
 <circle cx="390" cy="699" r="14" fill="#f3efe0"/>
 <circle cx="446" cy="722" r="18" fill="#f5edd6"/>
 <circle cx="431" cy="771" r="22" fill="#f4ecd6"/>
 <circle cx="484" cy="666" r="24" fill="#f5eed9"/>
 <circle cx="549" cy="688" r="20" fill="#f5eed9"/>
</g>
<g fill="#f7f7f7" opacity="0.9">
 <path d="M356,688 L348,680 C344,675 348,668 353,671 L356,673 L359,671 C364,668 368,675 364,680 Z"/>
 <path d="M394,755 L381,743 C374,735 381,724 389,729 L394,732 L399,729 C407,724 414,735 407,743 Z"/>
 <path d="M485,738 L491,738 L491,755 L485,755 Z M493,755 L493,738 L499,728 C502,726 505,728 504,732 L502,738 L510,738 C513,739 513,742 512,744 L509,754 C508,755 507,755 506,755 Z"/>
 <path d="M409,660 L413,660 L413,670 L409,670 Z M414,670 L414,660 L418,654 C420,653 421,654 421,656 L420,660 L424,660 C426,661 426,663 425,664 L423,669 L422,670 Z"/>
</g>
<g fill="#ece0c2">
 <path d="M436,725 C440,734 452,734 456,725 Z"/>
 <circle cx="440" cy="716" r="2"/><circle cx="452" cy="716" r="2"/>
 <path d="M474,670 C478,679 490,679 494,670 Z"/>
 <circle cx="478" cy="659" r="2.2"/><path d="M486,659 C488,656 492,656 494,659" stroke="#ece0c2" stroke-width="1.8" fill="none"/>
 <path d="M420,779 C425,788 437,788 442,779 Z"/>
 <circle cx="543" cy="683" r="1.8"/><circle cx="555" cy="683" r="1.8"/>
 <path d="M542,692 C546,698 552,698 556,692 Z"/>
</g>
<g fill="#efcfcf">
 <path d="M425,769 L420,764 C418,761 421,758 424,760 L425,761 L426,760 C429,758 432,761 430,764 Z"/>
 <path d="M438,769 L433,764 C431,761 434,758 437,760 L438,761 L439,760 C442,758 445,761 443,764 Z"/>
</g>
<rect x="0" y="540" width="800" height="440" fill="url(#fadeV)"/>
</svg></div>

<div class="h2" style="left:200px;top:470px;width:400px;letter-spacing:0.7px">Percentage Citing Yes</div>

<div class="div" style="left:399px;top:522px;width:1.5px;height:194px"></div>
<div class="div" style="left:399px;top:748px;width:1.5px;height:196px"></div>
<div class="div" style="left:33px;top:732.5px;width:346px;height:1.5px"></div>
<div class="div" style="left:421px;top:732.5px;width:345px;height:1.5px"></div>

<!-- gender -->
<div class="h2" style="left:0;top:534px">By Gender</div>
<div class="lbl" style="right:662px;top:588px;letter-spacing:0">Men</div>
<div class="bar" style="left:144px;top:587px;width:95px"></div>
<div class="val" style="left:245px;top:587.5px">42.4%</div>
<div class="lbl" style="right:662px;top:629px;letter-spacing:0">Women</div>
<div class="bar" style="left:144px;top:627.5px;width:89px"></div>
<div class="val" style="left:239px;top:628px">39.6%</div>

<!-- generation -->
<div class="h2" style="left:391.5px;top:534px;letter-spacing:0.4px">By Generation</div>
<div class="lbl" style="right:270.5px;top:589px" >Millennials</div>
<div class="bar" style="left:535.5px;top:587px;width:98.5px"></div>
<div class="val" style="left:640px;top:587.5px">43.9%</div>
<div class="lbl" style="right:270.5px;top:629px">Generation X</div>
<div class="bar" style="left:535.5px;top:627.5px;width:91.5px"></div>
<div class="val" style="left:633px;top:628px">40.9%</div>
<div class="lbl" style="right:270.5px;top:661px">Baby<br>Boomers</div>
<div class="bar" style="left:535.5px;top:668px;width:58px"></div>
<div class="val" style="left:600px;top:668.5px">26.5%</div>

<!-- political -->
<div class="h2" style="left:0;top:779px;letter-spacing:0.65px">By Political Affiliation</div>
<div class="lbl" style="right:662px;top:834px">Republicans</div>
<div class="bar" style="left:144px;top:832.5px;width:101px"></div>
<div class="val" style="left:251px;top:833px">45.0%</div>
<div class="lbl" style="right:662px;top:874px">Independents</div>
<div class="bar" style="left:144px;top:872.5px;width:92.5px"></div>
<div class="val" style="left:243px;top:873px">41.9%</div>
<div class="lbl" style="right:662px;top:915px">Democrats</div>
<div class="bar" style="left:144px;top:913px;width:81px"></div>
<div class="val" style="left:232px;top:913.5px">36.4%</div>

<!-- relationship -->
<div class="h2" style="left:391.5px;top:776px;letter-spacing:0.58px">By Relationship Status</div>
<div class="lbl" style="right:270px;top:819.5px">In a<br>relationship</div>
<div class="bar" style="left:536px;top:828px;width:99px"></div>
<div class="val" style="left:641px;top:828.5px">44.1%</div>
<div class="lbl" style="right:270.5px;top:870px">Married</div>
<div class="bar" style="left:536px;top:868.5px;width:92.5px"></div>
<div class="val" style="left:635px;top:869px">41.4%</div>
<div class="lbl" style="right:270.5px;top:911px;letter-spacing:0">Single</div>
<div class="bar" style="left:536px;top:909px;width:81px"></div>
<div class="val" style="left:623px;top:909.5px">36.2%</div>

<!-- banner -->
<div class="a" style="left:40px;top:998px;width:720px;height:91.5px;border-radius:0 17px 17px 0;background:linear-gradient(90deg,#599cbb 0%,#6688b3 50%,#7470a9 100%)"></div>
<svg class="a" style="left:40px;top:1089px" width="43" height="21" viewBox="0 0 43 21">
 <defs><linearGradient id="fg" x1="0" y1="0" x2="1" y2="0"><stop offset="0" stop-color="#7669a8"/><stop offset="1" stop-color="#6a82b3"/></linearGradient></defs>
 <path d="M0,0 L42.7,0 L42.7,20.5 Z" fill="url(#fg)"/>
</svg>
<div class="a" style="left:40px;top:1008.5px;width:720px;text-align:center;color:#fff;font-size:26px;line-height:35.3px;letter-spacing:1.49px;-webkit-text-stroke:0.3px #fff"><b style="letter-spacing:0.8px;-webkit-text-stroke:0.5px #fff">29% of respondents</b><span style="letter-spacing:0.96px"> who believed social media</span><br>improves their life would prefer a society without it.</div>

<div class="h2" style="left:0;top:1136px;width:800px;font-size:21.5px;letter-spacing:0.45px">By Social Media's Impact on Life Satisfaction</div>

<!-- legend -->
<div class="a" style="left:319px;top:1213px;width:30px;height:30px;background:#9fd7e1"></div>
<div class="a" style="left:353px;top:1214px;font-size:23px;font-weight:bold;-webkit-text-stroke:0.5px #333">Yes</div>
<div class="a" style="left:416px;top:1213px;width:30px;height:30px;background:#b8c6de"></div>
<div class="a" style="left:451px;top:1214px;font-size:23px;font-weight:bold;-webkit-text-stroke:0.5px #333">No</div>

<!-- stacked -->
<div class="lbl" style="right:610px;top:1292px;font-size:16px;letter-spacing:0.35px">Improves</div>
<div class="a" style="left:201px;top:1280px;width:135px;height:42px;background:#9fd7e1"></div>
<div class="a" style="left:336px;top:1280px;width:341px;height:42px;background:#b8c6de"></div>
<div class="a" style="left:201px;top:1288px;width:135px;text-align:center;font-size:23px;font-weight:bold;line-height:26px;letter-spacing:1.6px;-webkit-text-stroke:0.6px #333">29.0%</div>
<div class="a" style="left:336px;top:1288px;width:341px;text-align:center;font-size:23px;font-weight:bold;line-height:26px;letter-spacing:1.6px;-webkit-text-stroke:0.6px #333">71.0%</div>

<div class="lbl" style="right:610px;top:1373.5px;font-size:16px;letter-spacing:0px">Worsens</div>
<div class="a" style="left:201px;top:1361px;width:302px;height:42px;background:#9fd7e1"></div>
<div class="a" style="left:503px;top:1361px;width:174px;height:42px;background:#b8c6de"></div>
<div class="a" style="left:201px;top:1369px;width:302px;text-align:center;font-size:23px;font-weight:bold;line-height:26px;letter-spacing:1.6px;-webkit-text-stroke:0.6px #333">63.4%</div>
<div class="a" style="left:503px;top:1369px;width:174px;text-align:center;font-size:23px;font-weight:bold;line-height:26px;letter-spacing:1.6px;-webkit-text-stroke:0.6px #333">36.6%</div>

<!-- footer -->
<div class="a" style="left:29px;top:1458.5px;font-size:16px;color:#222"><b>Source:</b> Survey of 2,718 people</div>

<!-- logo -->
<div class="a" style="left:580px;top:1456.5px;width:7.5px;height:22px;border-radius:4px;background:#1890fc"></div>
<div class="a" style="left:592px;top:1450px;width:8px;height:35px;border-radius:4px;background:linear-gradient(180deg,#02d4fc 0%,#02d4fc 45%,#9092fd 55%,#9092fd 100%)"></div>
<div class="a" style="left:592px;top:1463px;width:8px;height:8px;border-radius:4px;background:#2a3cf0"></div>
<div class="a" style="left:604px;top:1456.5px;width:7.5px;height:22px;border-radius:4px;background:#04eca8"></div>
<div class="a" style="left:620px;top:1443.5px;font-size:36px;line-height:44px;color:#333;letter-spacing:0.9px;-webkit-text-stroke:0.9px #333">security</div>
<div class="a" style="left:744px;top:1458px;font-size:23px;line-height:26px;color:#333;letter-spacing:-0.6px">.org</div>
</body></html>
